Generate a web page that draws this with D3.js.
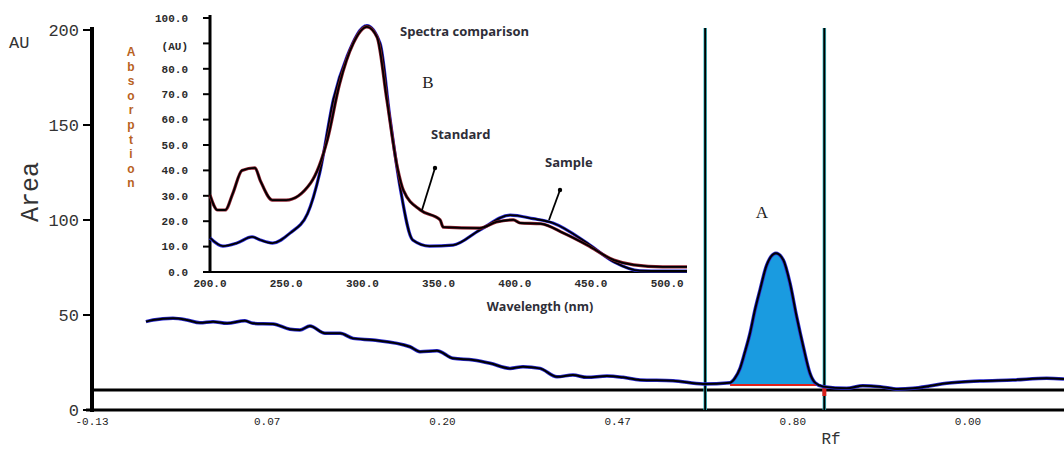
<!DOCTYPE html>
<html>
<head>
<meta charset="utf-8">
<script src="https://cdn.jsdelivr.net/npm/d3@7"></script>
<style>
  html, body { margin: 0; padding: 0; background: #fff; }
  svg { display: block; }
</style>
</head>
<body>
<svg id="chart" width="1064" height="449"></svg>
<script>
// Hauptchromatogramm: Positionen in Tick-Einheiten (0 = erster Tick "-0.13")
const xTickLabels = ['-0.13', '0.07', '0.20', '0.47', '0.80', '0.00'];
const yTicks = [0, 50, 100, 150, 200];
const trackPos = [0.308, 0.348, 0.462, 0.542, 0.616, 0.691, 0.771, 0.873, 0.919, 1.033, 1.130, 1.187, 1.244,
  1.330, 1.416, 1.490, 1.604, 1.815, 1.872, 1.969, 2.060, 2.175, 2.272, 2.386, 2.460, 2.557, 2.654, 2.745,
  2.825, 2.939, 3.031, 3.128, 3.316, 3.488, 3.642, 3.670, 3.699, 3.727, 3.756, 3.784, 3.813, 3.851, 3.904,
  3.946, 3.984, 4.022, 4.060, 4.098, 4.127, 4.174, 4.308, 4.400, 4.498, 4.600, 4.686, 4.780, 4.878, 5.068,
  5.257, 5.449, 5.548];
const trackAU = [46.5, 47.4, 48.3, 47.4, 45.9, 46.5, 45.6, 47.0, 45.6, 45.3, 42.5, 42.1, 44.2,
  40.4, 40.4, 37.7, 36.8, 33.3, 30.7, 31.2, 27.2, 26.3, 24.6, 21.9, 22.8, 21.9, 17.5, 18.4,
  17.2, 17.9, 17.2, 15.8, 15.4, 13.7, 14.4, 16.8, 21.9, 30.5, 40.4, 52.6, 63.2, 76.3, 82.5,
  78.9, 66.7, 49.1, 33.3, 19.3, 14.4, 12.3, 11.4, 12.8, 12.3, 11.0, 11.4, 12.6, 14.1, 15.3,
  15.8, 16.7, 16.3];
const peakRange = [3.642, 4.127];   // integrierter Peak A
const peakBase = 13.2;
const peakBounds = [3.5, 4.18];     // senkrechte Integrationsgrenzen
const baselineAU = 10.5;

// Inset: Spektrenvergleich
const specTicksX = [200, 250, 300, 350, 400, 450, 500];
const specTicksY = [0, 10, 20, 30, 40, 50, 60, 70, 80, 90, 100];
const stdNm = [200, 205, 210, 215, 221, 229.5, 233, 241, 250, 266, 277, 285, 294, 303, 309.6, 316, 323, 327,
  338, 351, 353, 377, 388, 399, 403.5, 417, 432, 447.5, 465, 478, 497, 513];
const stdAU = [30.3, 24.4, 24.4, 31, 40, 41, 36, 28.3, 28.3, 35, 52, 74, 90, 96.5, 92.5, 68, 41, 32,
  24.4, 20.5, 17.7, 17.3, 19.7, 20.5, 19.3, 19, 15.3, 10.6, 4.7, 2.8, 2, 2];
const smpNm = [200, 208.5, 217.7, 227.6, 233, 241, 252.5, 264, 272, 281, 290, 303, 311.6, 318, 324.7, 333,
  344, 359.5, 377, 397, 412, 425, 447.5, 465, 482, 497, 513];
const smpAU = [13.4, 10.2, 11.4, 13.8, 12.6, 11.4, 15.3, 23, 39, 68, 85, 97, 90, 61, 33.5, 12.6,
  10.2, 10.6, 16.5, 22.4, 21, 19.3, 11.4, 4, 0.5, 0.4, 0.4];

const svg = d3.select('#chart');
svg.append('rect').attr('width', 1064).attr('height', 449).attr('fill', '#fff');

const mono = '"Liberation Mono", "DejaVu Sans Mono", monospace';
const serif = '"Liberation Serif", "DejaVu Serif", serif';
const sans = '"Open Sans", "Noto Sans", sans-serif';

// Skalen Hauptdiagramm
const x = d3.scaleLinear().domain([0, 5.548]).range([92, 1064]);
const y = d3.scaleLinear().domain([0, 200]).range([410, 30]);

// Basislinie und x-Achse
svg.append('line').attr('x1', 92).attr('x2', 1064).attr('y1', y(baselineAU)).attr('y2', y(baselineAU))
  .attr('stroke', '#000').attr('stroke-width', 3);
svg.append('line').attr('x1', 86).attr('x2', 1064).attr('y1', y(0)).attr('y2', y(0))
  .attr('stroke', '#000').attr('stroke-width', 3);

// x-Tick-Beschriftungen
svg.selectAll('text.xt').data(xTickLabels).enter().append('text')
  .attr('class', 'xt')
  .attr('x', (d, i) => x(i)).attr('y', 425)
  .attr('text-anchor', 'middle')
  .style('font-family', mono).style('font-size', '11px').style('fill', '#222')
  .text(d => d);

// y-Achse
svg.append('line').attr('x1', 92).attr('x2', 92).attr('y1', 27).attr('y2', 412)
  .attr('stroke', '#000').attr('stroke-width', 4);
svg.selectAll('line.yt').data(yTicks).enter().append('line')
  .attr('x1', 83).attr('x2', 92).attr('y1', d => y(d)).attr('y2', d => y(d))
  .attr('stroke', '#000').attr('stroke-width', 2);
svg.selectAll('text.yt').data(yTicks).enter().append('text')
  .attr('x', 79).attr('y', d => y(d)).attr('dy', '0.35em')
  .attr('text-anchor', 'end')
  .style('font-family', mono).style('font-size', '17px').style('fill', '#333')
  .text(d => d);

svg.append('text').attr('x', 9).attr('y', 48)
  .style('font-family', mono).style('font-size', '17px').style('fill', '#333').text('AU');
svg.append('text').attr('transform', 'translate(38,192) rotate(-90)')
  .attr('text-anchor', 'middle')
  .style('font-family', mono).style('font-size', '25px').style('fill', '#333').text('Area');
svg.append('text').attr('x', 831).attr('y', 444).attr('text-anchor', 'middle')
  .style('font-family', mono).style('font-size', '16px').style('fill', '#333').text('Rf');
svg.append('text').attr('x', 762).attr('y', 218).attr('text-anchor', 'middle')
  .style('font-family', serif).style('font-size', '17px').style('fill', '#222').text('A');

// Peak-Fläche
const track = trackPos.map((p, i) => ({ p, v: trackAU[i] }));
const peakPts = track.filter(d => d.p >= peakRange[0] && d.p <= peakRange[1]);
svg.append('path').datum(peakPts)
  .attr('d', d3.area().x(d => x(d.p)).y0(y(peakBase)).y1(d => y(d.v)).curve(d3.curveMonotoneX))
  .attr('fill', '#1a9be0');
svg.append('line').attr('x1', x(peakRange[0])).attr('x2', x(4.16))
  .attr('y1', y(peakBase)).attr('y2', y(peakBase))
  .attr('stroke', '#e0201a').attr('stroke-width', 2);

// senkrechte Grenzen
peakBounds.forEach(b => {
  svg.append('line').attr('x1', x(b)).attr('x2', x(b)).attr('y1', 28).attr('y2', 410)
    .attr('stroke', '#3cc0c8').attr('stroke-width', 3.5);
  svg.append('line').attr('x1', x(b)).attr('x2', x(b)).attr('y1', 28).attr('y2', 410)
    .attr('stroke', '#000').attr('stroke-width', 2);
});
svg.append('rect').attr('x', x(peakBounds[1]) - 2).attr('y', 386).attr('width', 4).attr('height', 10)
  .attr('fill', '#d8201a');

// Chromatogrammkurve
const trackLine = d3.line().x(d => x(d.p)).y(d => y(d.v)).curve(d3.curveMonotoneX);
svg.append('path').datum(track).attr('d', trackLine)
  .attr('fill', 'none').attr('stroke', '#2a2ad0').attr('stroke-width', 3.5);
svg.append('path').datum(track).attr('d', trackLine)
  .attr('fill', 'none').attr('stroke', '#000').attr('stroke-width', 2);

// ---------- Inset ----------
const sx = d3.scaleLinear().domain([200, 513]).range([210, 687]);
const sy = d3.scaleLinear().domain([0, 100]).range([272, 18]);

svg.append('line').attr('x1', 208).attr('x2', 687).attr('y1', sy(0)).attr('y2', sy(0))
  .attr('stroke', '#000').attr('stroke-width', 1.8);
svg.append('line').attr('x1', 210).attr('x2', 210).attr('y1', 15).attr('y2', 273)
  .attr('stroke', '#000').attr('stroke-width', 3);
svg.selectAll('line.syt').data(specTicksY).enter().append('line')
  .attr('x1', 203).attr('x2', 210).attr('y1', d => sy(d)).attr('y2', d => sy(d))
  .attr('stroke', '#000').attr('stroke-width', 2);
svg.selectAll('text.syt').data(specTicksY).enter().append('text')
  .attr('x', 188).attr('y', d => d === 90 ? sy(d) + 3 : sy(d)).attr('dy', '0.35em')
  .attr('text-anchor', 'end')
  .style('font-family', mono).style('font-size', '11px').style('font-weight', 'bold').style('fill', '#2a2a2a')
  .text(d => d === 90 ? '(AU)' : d.toFixed(1));
svg.selectAll('text.sxt').data(specTicksX).enter().append('text')
  .attr('x', d => sx(d)).attr('y', 287)
  .attr('text-anchor', 'middle')
  .style('font-family', mono).style('font-size', '11px').style('font-weight', 'bold').style('fill', '#2a2a2a')
  .text(d => d.toFixed(1));

// Absorption senkrecht gestapelt
'Absorption'.split('').forEach((c, i) => {
  svg.append('text').attr('x', 131).attr('y', 56 + i * 14.6).attr('text-anchor', 'middle')
    .style('font-family', '"Liberation Sans", Arial, sans-serif').style('font-size', '12px')
    .style('font-weight', 'bold').style('fill', '#b8621e').text(c);
});

const specLine = d3.line().x(d => sx(d[0])).y(d => sy(d[1])).curve(d3.curveMonotoneX);
const stdPts = stdNm.map((n, i) => [n, stdAU[i]]);
const smpPts = smpNm.map((n, i) => [n, smpAU[i]]);
svg.append('path').datum(smpPts).attr('d', specLine)
  .attr('fill', 'none').attr('stroke', '#2a2ad8').attr('stroke-width', 3.2);
svg.append('path').datum(smpPts).attr('d', specLine)
  .attr('fill', 'none').attr('stroke', '#000').attr('stroke-width', 1.8);
svg.append('path').datum(stdPts).attr('d', specLine)
  .attr('fill', 'none').attr('stroke', '#8a2030').attr('stroke-width', 3.2);
svg.append('path').datum(stdPts).attr('d', specLine)
  .attr('fill', 'none').attr('stroke', '#000').attr('stroke-width', 1.8);

// Beschriftungen im Inset
svg.append('text').attr('x', 400).attr('y', 36)
  .style('font-family', sans).style('font-size', '13px').style('font-weight', 'bold').style('fill', '#2e2e38')
  .text('Spectra comparison');
svg.append('text').attr('x', 428).attr('y', 88).attr('text-anchor', 'middle')
  .style('font-family', serif).style('font-size', '17px').style('fill', '#222').text('B');
svg.append('text').attr('x', 431).attr('y', 139)
  .style('font-family', sans).style('font-size', '13px').style('font-weight', 'bold').style('fill', '#2e2e38')
  .text('Standard');
svg.append('text').attr('x', 545).attr('y', 167)
  .style('font-family', sans).style('font-size', '13px').style('font-weight', 'bold').style('fill', '#2e2e38')
  .text('Sample');
svg.append('text').attr('x', 540).attr('y', 311).attr('text-anchor', 'middle')
  .style('font-family', sans).style('font-size', '12.5px').style('font-weight', 'bold').style('fill', '#2e2e38')
  .text('Wavelength (nm)');

// Pfeile zu den Kurven
[[[435, 168], [422, 210]], [[560, 190], [549, 220]]].forEach(seg => {
  svg.append('line').attr('x1', seg[0][0]).attr('y1', seg[0][1]).attr('x2', seg[1][0]).attr('y2', seg[1][1])
    .attr('stroke', '#000').attr('stroke-width', 1.8);
  svg.append('circle').attr('cx', seg[0][0]).attr('cy', seg[0][1]).attr('r', 2.2).attr('fill', '#000');
});
</script>
</body>
</html>
